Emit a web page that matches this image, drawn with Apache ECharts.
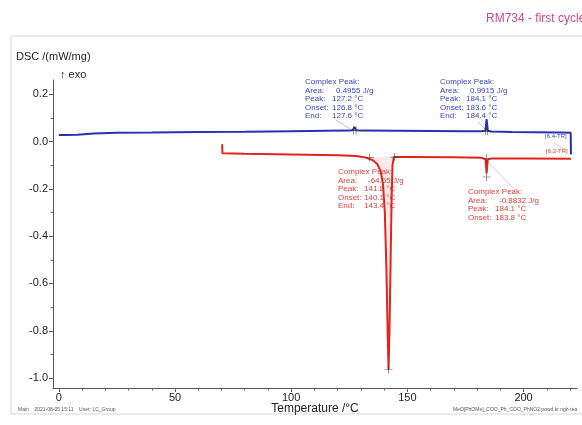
<!DOCTYPE html>
<html>
<head>
    <meta charset="utf-8">
    <script src="https://cdn.jsdelivr.net/npm/echarts@6/dist/echarts.min.js"></script>
    <style>
        html, body { margin: 0; padding: 0; background: #fff; }
    </style>
</head>
<body>
<div id="main" style="width: 582px;height:425px;"></div>
<script type="text/javascript">

// heating run (blue) - temperature / DSC signal
var heatT = [0, 3, 8, 15, 25, 40, 60, 80, 100, 115, 125, 126.5, 127.2, 127.9, 130, 145, 160, 175, 182, 183.6, 184.1, 184.6, 186, 195, 205, 215, 220.3, 220.4];
var heatV = [0.027, 0.027, 0.029, 0.034, 0.037, 0.038, 0.040, 0.041, 0.043, 0.045, 0.046, 0.048, 0.062, 0.048, 0.046, 0.045, 0.044, 0.043, 0.043, 0.046, 0.095, 0.046, 0.042, 0.040, 0.039, 0.038, 0.037, -0.055];

// cooling run (red)
var coolT = [70.3, 70.4, 80, 100, 120, 128, 132, 135, 137, 138.5, 139.5, 140.3, 141, 141.5, 141.9, 142.3, 142.8, 143.2, 143.6, 144.2, 150, 170, 182, 183.6, 184.1, 184.6, 186, 200, 220.4];
var coolV = [-0.012, -0.050, -0.052, -0.055, -0.058, -0.061, -0.068, -0.078, -0.095, -0.125, -0.18, -0.30, -0.55, -0.80, -0.964, -0.80, -0.50, -0.25, -0.10, -0.066, -0.065, -0.067, -0.069, -0.075, -0.135, -0.076, -0.072, -0.072, -0.073];

// peak area (hatched) and markers
var peakBase = -0.065;
var markT = [133.8, 144.4, 141.9, 184.0, 184.1, 126.8, 127.9, 183.7, 184.5];
var markV = [-0.068, -0.066, -0.964, -0.072, -0.15, 0.047, 0.046, 0.044, 0.044];

var xTicks = [0, 50, 100, 150, 200];
var xMinor = [0, 10, 20, 30, 40, 50, 60, 70, 80, 90, 100, 110, 120, 130, 140, 150, 160, 170, 180, 190, 200, 210, 220];
var yTicks = [-1.0, -0.8, -0.6, -0.4, -0.2, 0.0, 0.2];
var yMinor = [-1.0, -0.9, -0.8, -0.7, -0.6, -0.5, -0.4, -0.3, -0.2, -0.1, 0.0, 0.1, 0.2];

// annotation texts
var blueNote1 = ['Complex Peak:', 'Area:', 'Peak:', 'Onset:', 'End:'];
var blueVal1 = ['', '0.4955 J/g', '127.2 °C', '126.8 °C', '127.6 °C'];
var blueNote2 = ['Complex Peak:', 'Area:', 'Peak:', 'Onset:', 'End:'];
var blueVal2 = ['', '0.9915 J/g', '184.1 °C', '183.6 °C', '184.4 °C'];
var redNote1 = ['Complex Peak:', 'Area:', 'Peak:', 'Onset:', 'End:'];
var redVal1 = ['', '-64.55 J/g', '141.8 °C', '140.1 °C', '143.4 °C'];
var redNote2 = ['Complex Peak:', 'Area:', 'Peak:', 'Onset:'];
var redVal2 = ['', '-0.8832 J/g', '184.1 °C', '183.8 °C'];

function zip(a, b) {
    var out = [];
    for (var i = 0; i < a.length; i++) out.push([a[i], b[i]]);
    return out;
}

var peakData = [];
for (var i = 0; i < coolT.length; i++) {
    if (coolT[i] >= 133 && coolT[i] <= 144.5) peakData.push([coolT[i], coolV[i]]);
}

var FONT = '"Liberation Sans", Arial, sans-serif';
var BLUE = '#2a2fb5';
var RED = '#e0241f';
var BLUE_TXT = '#3b46b8';
var RED_TXT = '#d9403a';

function noteBlock(lines, vals, x, y, valX, color) {
    var els = [];
    for (var i = 0; i < lines.length; i++) {
        els.push({ type: 'text', left: x, top: y + i * 8.5 - 4,
            style: { text: lines[i], fill: color, font: '8px ' + FONT } });
        if (vals[i]) {
            var vx = (i == 1) ? valX + 4 : valX;
            els.push({ type: 'text', left: vx, top: y + i * 8.5 - 4,
                style: { text: vals[i], fill: color, font: '8px ' + FONT } });
        }
    }
    return els;
}

var graphics = [
    { type: 'rect', shape: { x: 11, y: 36, width: 600, height: 378 },
      style: { fill: 'none', stroke: '#d6d6d6', lineWidth: 1 } },
    { type: 'text', left: 486, top: 13, style: { text: 'RM734 - first cycle', fill: '#c9488a', font: '12px ' + FONT } },
    { type: 'text', left: 16, top: 51, style: { text: 'DSC /(mW/mg)', fill: '#222', font: '11px ' + FONT } },
    { type: 'text', left: 60, top: 69, style: { text: '↑ exo', fill: '#222', font: '11px ' + FONT } },
    { type: 'text', left: 18, top: 407, style: { text: 'Main    2021-08-05 15:11    User: LC_Group', fill: '#555', font: '5px ' + FONT } },
    { type: 'text', left: 453, top: 407, style: { text: 'MeO[PhOMe]_COO_Ph_COO_PhNO2 powd kr ngh-tea', fill: '#555', font: '5px ' + FONT } },
    { type: 'text', left: 545, top: 133, style: { text: '[6.4-TR]', fill: BLUE_TXT, font: '6px ' + FONT } },
    { type: 'text', left: 546, top: 148, style: { text: '[6.2-TR]', fill: RED_TXT, font: '6px ' + FONT } },
    // leader lines
    { type: 'line', shape: { x1: 336, y1: 120, x2: 352, y2: 130 }, style: { stroke: '#9a9aa8', lineWidth: 0.6 } },
    { type: 'line', shape: { x1: 478, y1: 122, x2: 486, y2: 130 }, style: { stroke: '#9a9aa8', lineWidth: 0.6 } },
    { type: 'line', shape: { x1: 488, y1: 162, x2: 515, y2: 190 }, style: { stroke: '#e0a0a0', lineWidth: 0.6 } },
    { type: 'line', shape: { x1: 554, y1: 143, x2: 566, y2: 150 }, style: { stroke: '#e0a0a0', lineWidth: 0.6 } }
];
graphics = graphics
    .concat(noteBlock(blueNote1, blueVal1, 305, 82, 332, BLUE_TXT))
    .concat(noteBlock(blueNote2, blueVal2, 440, 82, 466, BLUE_TXT))
    .concat(noteBlock(redNote1, redVal1, 338, 172, 364, RED_TXT))
    .concat(noteBlock(redNote2, redVal2, 468, 192, 495, RED_TXT));

var myChart = echarts.init(document.getElementById('main'));

var option = {
    backgroundColor: '#fff',
    animation: false,
    textStyle: { fontFamily: FONT },
    grid: { left: 53, right: 5, top: 80, bottom: 37 },
    xAxis: [
        {
            type: 'value', min: -2.5, max: 223,
            name: 'Temperature /°C', nameLocation: 'middle', nameGap: 21, nameMoveOverlap: false,
            nameTextStyle: { color: '#222', fontSize: 12, fontFamily: FONT, verticalAlign: 'middle' },
            axisLine: { onZero: false, lineStyle: { color: '#555', width: 1 } },
            axisTick: { customValues: xTicks, length: 4, lineStyle: { color: '#555' } },
            axisLabel: { customValues: xTicks, color: '#222', fontSize: 11, margin: 4, fontFamily: FONT },
            splitLine: { show: false }
        },
        {
            type: 'value', min: -2.5, max: 223, position: 'bottom',
            axisLine: { show: false, onZero: false },
            axisTick: { customValues: xMinor, length: 2.5, lineStyle: { color: '#666' } },
            axisLabel: { show: false },
            splitLine: { show: false }
        }
    ],
    yAxis: [
        {
            type: 'value', min: -1.042, max: 0.26,
            axisLine: { show: true, onZero: false, lineStyle: { color: '#555', width: 1 } },
            axisTick: { show: true, customValues: yTicks, length: 4, lineStyle: { color: '#555' } },
            axisLabel: { customValues: yTicks, color: '#222', fontSize: 11, margin: 5, fontFamily: FONT,
                formatter: function (v) { return v.toFixed(1); } },
            splitLine: { show: false }
        },
        {
            type: 'value', min: -1.042, max: 0.26, position: 'left',
            axisLine: { show: false, onZero: false },
            axisTick: { show: true, customValues: yMinor, length: 2.5, lineStyle: { color: '#666' } },
            axisLabel: { show: false },
            splitLine: { show: false }
        }
    ],
    series: [
        {
            name: 'peak area', type: 'line', data: peakData, symbol: 'none',
            lineStyle: { width: 0 },
            areaStyle: { origin: peakBase, color: 'rgba(235,120,120,0.22)' },
            silent: true, z: 1
        },
        {
            name: 'heating', type: 'line', data: zip(heatT, heatV), symbol: 'none',
            lineStyle: { color: BLUE, width: 2 }, z: 3
        },
        {
            name: 'cooling', type: 'line', data: zip(coolT, coolV), symbol: 'none',
            lineStyle: { color: RED, width: 2 }, z: 2
        },
        {
            name: 'markers', type: 'scatter', data: zip(markT, markV),
            symbol: 'path://M4.6,0h0.8v10h-0.8z M0,4.6h10v0.8h-10z', symbolSize: 8,
            itemStyle: { color: '#333' }, z: 4
        }
    ],
    graphic: graphics
};

myChart.setOption(option);

</script>
</body>
</html>
